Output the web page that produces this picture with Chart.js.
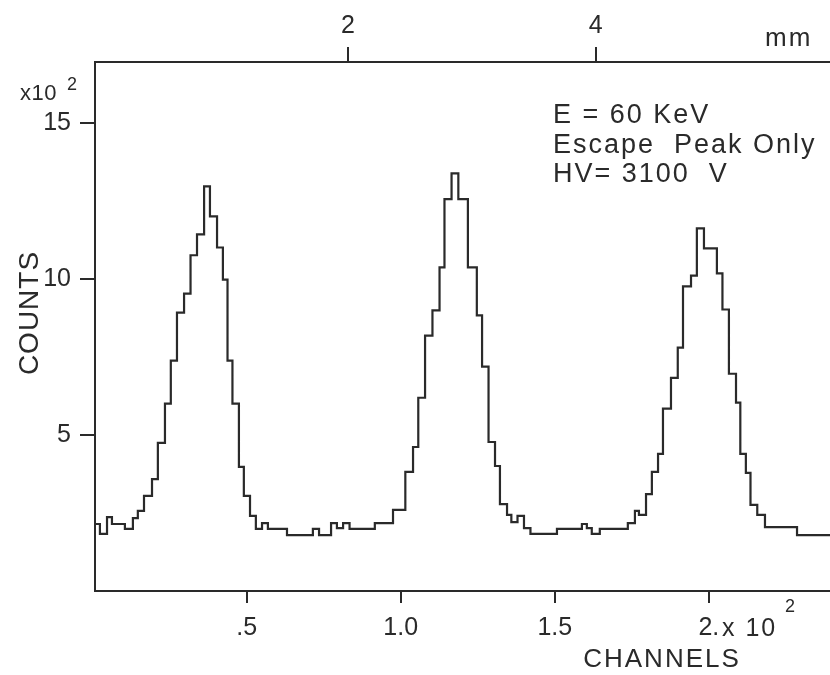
<!DOCTYPE html>
<html lang="en">
<head>
    <meta charset="UTF-8">
    <title>Escape peak scan</title>
    <script src="https://cdn.jsdelivr.net/npm/chart.js"></script>
    <style>
        body {
            margin: 0;
            background: #fff;
        }
        #spectrumChart {
            display: block;
        }
    </style>
</head>
<body>
    <canvas id="spectrumChart" width="830" height="675"></canvas>

    <script>
        // Channel where each histogram step starts
        const binStart = [
            0.8, 2.4, 4.7, 6.3, 10.5, 13.1, 14.7, 16.7, 19.3, 21.2,
            23.5, 25.4, 27.4, 29.7, 31.8, 33.9, 36.2, 38.1, 40.4, 42.3,
            43.8, 45.4, 47.5, 49.1, 51.1, 53.0, 55.0, 56.9, 63.1, 71.5,
            73.5, 77.4, 79.3, 81.3, 83.4, 91.6, 97.5, 101.5, 104.0, 105.7,
            107.9, 110.3, 112.6, 114.2, 116.5, 118.7, 121.8, 124.7, 126.4, 128.5,
            130.6, 132.2, 134.5, 135.9, 137.9, 140.0, 142.1, 150.7, 158.8, 160.4,
            162.0, 164.6, 173.7, 176.0, 177.3, 179.6, 181.5, 183.5, 185.1, 187.7,
            189.9, 191.6, 194.2, 196.1, 198.4, 202.6, 204.4, 206.5, 208.8, 210.2,
            212.0, 213.5, 215.7, 218.2, 228.6
        ];
        // Counts for each step
        const counts = [
            215, 183, 237, 215, 199, 234, 257, 305, 359, 475,
            601, 739, 893, 954, 1077, 1144, 1298, 1202, 1102, 999,
            739, 601, 398, 305, 241, 199, 218, 199, 179, 199,
            179, 218, 202, 218, 199, 218, 260, 382, 462, 620,
            819, 900, 1038, 1257, 1340, 1257, 1038, 884, 720, 478,
            401, 279, 244, 221, 241, 202, 183, 199, 215, 202,
            183, 199, 218, 257, 244, 311, 382, 440, 585, 684,
            781, 977, 1012, 1163, 1099, 1019, 903, 697, 604, 440,
            379, 276, 244, 205, 179
        ];
        const lastChannel = 239.3;

        // Axis ticks
        const channelTicks = [50, 100, 150, 200];
        const channelTickLabels = ['.5', '1.0', '1.5', '2.'];
        const countTicks = [500, 1000, 1500];
        const countTickLabels = ['5', '10', '15'];
        const mmTicks = [2, 4];
        const mmTickLabels = ['2', '4'];

        // Axis ranges
        const channelMin = 0.8;
        const countMax = 1697;
        const mmMin = -0.04;
        const mmMax = 5.89;

        const ink = '#2a2a2a';
        const FONT = '"Liberation Sans", Arial, sans-serif';

        // Build step points, the last level runs to the right edge
        const points = binStart.map((ch, i) => ({ x: ch, y: counts[i] }));
        points.push({ x: lastChannel, y: counts[counts.length - 1] });

        // Free text on the figure
        const textPlugin = {
            id: 'figureText',
            afterDraw(chart) {
                const ctx = chart.ctx;
                ctx.save();
                ctx.fillStyle = ink;
                ctx.textAlign = 'left';
                ctx.textBaseline = 'alphabetic';

                function put(str, x, y, size, spacing) {
                    ctx.font = size + 'px ' + FONT;
                    ctx.letterSpacing = (spacing || 0) + 'px';
                    ctx.fillText(str, x, y);
                }

                // y multiplier
                put('x10', 20, 100, 22, 0.5);
                put('2', 67, 90, 18);

                // top axis unit
                put('mm', 765, 46, 26, 2);

                // run conditions
                put('E = 60 KeV', 553, 123, 27, 2);
                put('Escape  Peak Only', 553, 153, 27, 2);
                put('HV= 3100  V', 553, 182, 27, 2);

                // channel multiplier after the last tick label
                put('x 10', 722, 636, 25, 2);
                put('2', 785, 612, 18);

                // axis titles
                ctx.textAlign = 'center';
                put('CHANNELS', 662, 667, 26, 2);

                ctx.translate(30, 313);
                ctx.rotate(-Math.PI / 2);
                ctx.textBaseline = 'middle';
                put('COUNTS', 0, 0, 28, 1);
                ctx.restore();
            }
        };

        const tickFont = { family: FONT, size: 25 };

        const ctx = document.getElementById('spectrumChart').getContext('2d');
        const spectrumChart = new Chart(ctx, {
            type: 'line',
            data: {
                datasets: [{
                    data: points,
                    stepped: true,
                    borderColor: ink,
                    borderWidth: 2.2,
                    pointRadius: 0,
                    fill: false
                }]
            },
            options: {
                responsive: false,
                animation: false,
                layout: { padding: 0, autoPadding: false },
                plugins: {
                    legend: { display: false },
                    tooltip: { enabled: false }
                },
                scales: {
                    x: {
                        type: 'linear',
                        position: 'bottom',
                        min: channelMin,
                        max: lastChannel,
                        afterBuildTicks: s => { s.ticks = channelTicks.map(v => ({ value: v })); },
                        afterFit: s => { s.height = 84; },
                        ticks: {
                            callback: (v, i) => channelTickLabels[i],
                            font: tickFont,
                            color: ink,
                            padding: 10,
                            maxRotation: 0,
                            autoSkip: false
                        },
                        grid: { drawOnChartArea: false, tickLength: 12, color: ink, lineWidth: 2 },
                        border: { color: ink, width: 2 }
                    },
                    mm: {
                        type: 'linear',
                        position: 'top',
                        min: mmMin,
                        max: mmMax,
                        afterBuildTicks: s => { s.ticks = mmTicks.map(v => ({ value: v })); },
                        afterFit: s => { s.height = 62; },
                        ticks: {
                            callback: (v, i) => mmTickLabels[i],
                            font: tickFont,
                            color: ink,
                            padding: 6,
                            maxRotation: 0,
                            autoSkip: false
                        },
                        grid: { drawOnChartArea: false, tickLength: 15, color: ink, lineWidth: 2 },
                        border: { color: ink, width: 2 }
                    },
                    y: {
                        min: 0,
                        max: countMax,
                        afterBuildTicks: s => { s.ticks = countTicks.map(v => ({ value: v })); },
                        afterFit: s => { s.width = 95; },
                        ticks: {
                            callback: (v, i) => countTickLabels[i],
                            font: tickFont,
                            color: ink,
                            padding: 9
                        },
                        grid: { drawOnChartArea: false, tickLength: 15, color: ink, lineWidth: 2 },
                        border: { color: ink, width: 2 }
                    }
                }
            },
            plugins: [textPlugin]
        });
    </script>
</body>
</html>
